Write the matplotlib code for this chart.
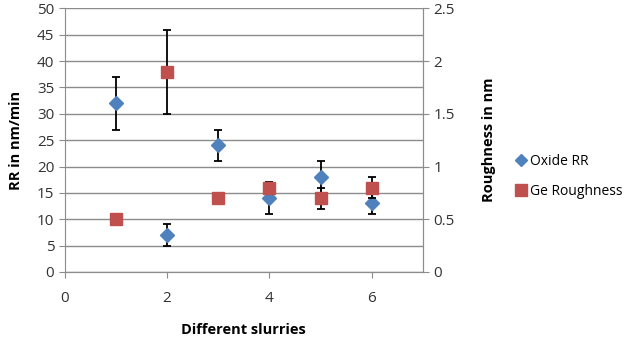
import matplotlib.pyplot as plt

plt.rcParams['font.family'] = ['Open Sans', 'DejaVu Sans']

slurry = [1, 2, 3, 4, 5, 6]
oxide_rr = [32, 7, 24, 14, 18, 13]
oxide_err = [5, 2, 3, 3, 3, 2]
ge_rough = [0.5, 1.9, 0.7, 0.8, 0.7, 0.8]
ge_err = [0, 0.4, 0, 0.04, 0.1, 0.1]

blue = '#4F81BD'
red = '#C0504D'
grid = '#8c8c8c'

fig = plt.figure(figsize=(6.35, 3.39), dpi=100)
ax = fig.add_axes([0.102, 0.198, 0.564, 0.777])
ax2 = ax.twinx()

ax.errorbar(slurry, oxide_rr, yerr=oxide_err, fmt='D', color=blue, ms=7,
            ecolor='black', elinewidth=1.3, capsize=3, capthick=1.3,
            label='Oxide RR', zorder=3)
ax2.errorbar(slurry, ge_rough, yerr=ge_err, fmt='s', color=red, ms=9,
             ecolor='black', elinewidth=1.3, capsize=3, capthick=1.3,
             label='Ge Roughness', zorder=3)

ax.set_xlim(0, 7)
ax.set_ylim(0, 50)
ax2.set_ylim(0, 2.5)
ax.set_xticks([0, 2, 4, 6])
ax.set_yticks(range(0, 51, 5))
ax2.set_yticks([0, 0.5, 1, 1.5, 2, 2.5])
ax2.set_yticklabels(['0', '0.5', '1', '1.5', '2', '2.5'])
ax.yaxis.grid(True, color=grid, lw=1)
ax.set_axisbelow(True)

for a in (ax, ax2):
    a.spines['top'].set_visible(False)
    for s in ('left', 'right', 'bottom'):
        a.spines[s].set_color(grid)
    a.tick_params(colors=grid, labelcolor='#333333', labelsize=11, length=4)
ax2.spines['left'].set_visible(False)
ax.tick_params(axis='x', pad=10)

ax.set_xlabel('Different slurries', fontsize=10.5, fontweight='bold', labelpad=12)
ax.set_ylabel('RR in nm/min', fontsize=10.5, fontweight='bold', labelpad=10)
ax2.set_ylabel('Roughness in nm', fontsize=10.5, fontweight='bold', labelpad=20)

handles = [plt.Line2D([], [], marker='D', ls='', color=blue, ms=6),
           plt.Line2D([], [], marker='s', ls='', color=red, ms=8)]
fig.legend(handles, ['Oxide RR', 'Ge Roughness'], loc='upper left',
           bbox_to_anchor=(0.81, 0.547), frameon=False, fontsize=10,
           handletextpad=0.1, labelspacing=1.1, handlelength=1.0,
           borderaxespad=0, borderpad=0)

fig.savefig('out.png', dpi=100)
